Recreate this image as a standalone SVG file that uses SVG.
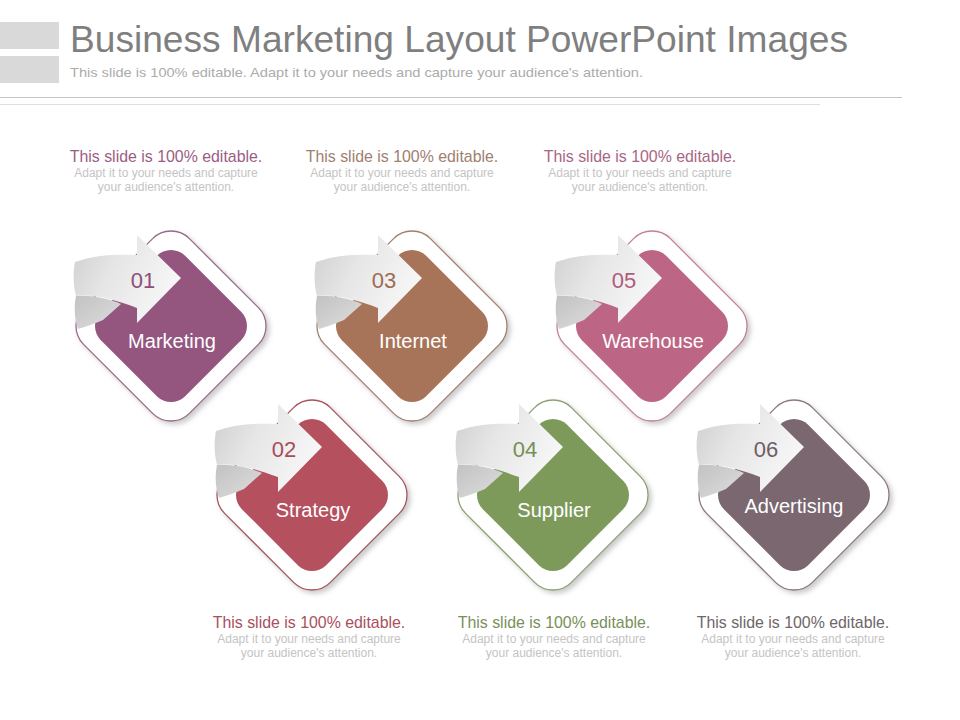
<svg xmlns="http://www.w3.org/2000/svg" xmlns:xlink="http://www.w3.org/1999/xlink" width="960" height="720" viewBox="0 0 960 720">
  <style>
    text { font-family: "Liberation Sans", Arial, sans-serif; }
    .title { font-size: 36px; fill: #7F7F7F; }
    .sub { font-size: 13px; fill: #ABABAB; }
    .head { font-size: 15.9px; text-anchor: middle; }
    .body { font-size: 12px; fill: #C4C4C4; text-anchor: middle; }
    .num { font-size: 22px; text-anchor: middle; }
    .lbl { font-size: 20px; fill: #FFFFFF; text-anchor: middle; }
    .outer { fill: #FFFFFF; stroke-width: 1.3; }
  </style>
  <defs>
    <filter id="sh" x="-20%" y="-20%" width="150%" height="150%">
      <feDropShadow dx="3" dy="3" stdDeviation="2.5" flood-color="#8C8C8C" flood-opacity="0.45"/>
    </filter>
    <linearGradient id="arrowG" x1="0" y1="0" x2="1" y2="0.4">
      <stop offset="0" stop-color="#CECECE"/>
      <stop offset="0.45" stop-color="#E6E6E6"/>
      <stop offset="1" stop-color="#F6F6F6"/>
    </linearGradient>
    <linearGradient id="foldG" x1="0" y1="0" x2="1" y2="1">
      <stop offset="0" stop-color="#C2C2C2"/>
      <stop offset="1" stop-color="#DEDEDE"/>
    </linearGradient>
    <g id="arrow">
      <path d="M-95,-30 C-80,-31 -64,-28 -50,-22 L-68,-6 C-77,-2 -86,1 -93,3 C-97,-8 -97,-20 -95,-30 Z" fill="url(#foldG)"/>
      <path d="M-96,-64 C-76,-71 -56,-72 -34,-71 L-34,-91 L10,-48 L-34,-3 L-34,-18 C-56,-26 -76,-32 -95,-30 C-98,-41 -98,-54 -96,-64 Z" fill="url(#arrowG)"/>
    </g>
    <rect id="outerShape" x="-74.8" y="-74.8" width="149.6" height="149.6" rx="26" transform="rotate(45)"/>
    <rect id="innerShape" x="-59.6" y="-59.6" width="119.2" height="119.2" rx="20" transform="rotate(45)"/>
  </defs>

  <g id="header">
    <rect x="0" y="22" width="59" height="27" fill="#D9D9D9"/>
    <rect x="0" y="56" width="59" height="27" fill="#D9D9D9"/>
    <text class="title" x="70" y="52" textLength="778" lengthAdjust="spacingAndGlyphs">Business Marketing Layout PowerPoint Images</text>
    <text class="sub" x="70" y="77" textLength="573" lengthAdjust="spacingAndGlyphs">This slide is 100% editable. Adapt it to your needs and capture your audience's attention.</text>
    <line x1="0" y1="97.5" x2="902" y2="97.5" stroke="#C4C4C4" stroke-width="1"/>
    <line x1="0" y1="104.5" x2="820" y2="104.5" stroke="#DEDEDE" stroke-width="1"/>
  </g>

  <g id="connectors"></g>

  <g id="node1" transform="translate(171,326)">
    <use xlink:href="#outerShape" class="outer" stroke="#9A6A88" filter="url(#sh)"/>
    <use xlink:href="#innerShape" fill="#94567F"/>
    <use xlink:href="#arrow"/>
    <text class="num" x="-28" y="-38" fill="#8C4F7A">01</text>
    <text class="lbl" x="1" y="22">Marketing</text>
  </g>
  <g id="node3" transform="translate(412,326)">
    <use xlink:href="#outerShape" class="outer" stroke="#A0806E" filter="url(#sh)"/>
    <use xlink:href="#innerShape" fill="#A87459"/>
    <use xlink:href="#arrow"/>
    <text class="num" x="-28" y="-38" fill="#9E6B55">03</text>
    <text class="lbl" x="1" y="22">Internet</text>
  </g>
  <g id="node5" transform="translate(652,326)">
    <use xlink:href="#outerShape" class="outer" stroke="#C38099" filter="url(#sh)"/>
    <use xlink:href="#innerShape" fill="#BD6584"/>
    <use xlink:href="#arrow"/>
    <text class="num" x="-28" y="-38" fill="#B05C7C">05</text>
    <text class="lbl" x="1" y="22">Warehouse</text>
  </g>
  <g id="node2" transform="translate(312,495)">
    <use xlink:href="#outerShape" class="outer" stroke="#A65360" filter="url(#sh)"/>
    <use xlink:href="#innerShape" fill="#B5505E"/>
    <use xlink:href="#arrow"/>
    <text class="num" x="-28" y="-38" fill="#A84D5B">02</text>
    <text class="lbl" x="1" y="22">Strategy</text>
  </g>
  <g id="node4" transform="translate(553,495)">
    <use xlink:href="#outerShape" class="outer" stroke="#8DA070" filter="url(#sh)"/>
    <use xlink:href="#innerShape" fill="#7E9A5B"/>
    <use xlink:href="#arrow"/>
    <text class="num" x="-28" y="-38" fill="#758F57">04</text>
    <text class="lbl" x="1" y="22">Supplier</text>
  </g>
  <g id="node6" transform="translate(794,495)">
    <use xlink:href="#outerShape" class="outer" stroke="#8A7A80" filter="url(#sh)"/>
    <use xlink:href="#innerShape" fill="#7A676F"/>
    <use xlink:href="#arrow"/>
    <text class="num" x="-28" y="-38" fill="#6E5E66">06</text>
    <text class="lbl" x="0" y="18">Advertising</text>
  </g>

  <g id="text1">
    <text class="head" x="166" y="162" fill="#9B5D84">This slide is 100% editable.</text>
    <text class="body" x="166" y="177">Adapt it to your needs and capture</text>
    <text class="body" x="166" y="191">your audience's attention.</text>
  </g>
  <g id="text3">
    <text class="head" x="402" y="162" fill="#A08070">This slide is 100% editable.</text>
    <text class="body" x="402" y="177">Adapt it to your needs and capture</text>
    <text class="body" x="402" y="191">your audience's attention.</text>
  </g>
  <g id="text5">
    <text class="head" x="640" y="162" fill="#A86685">This slide is 100% editable.</text>
    <text class="body" x="640" y="177">Adapt it to your needs and capture</text>
    <text class="body" x="640" y="191">your audience's attention.</text>
  </g>
  <g id="text2">
    <text class="head" x="309" y="628" fill="#A9505E">This slide is 100% editable.</text>
    <text class="body" x="309" y="643">Adapt it to your needs and capture</text>
    <text class="body" x="309" y="657">your audience's attention.</text>
  </g>
  <g id="text4">
    <text class="head" x="554" y="628" fill="#7A8F5A">This slide is 100% editable.</text>
    <text class="body" x="554" y="643">Adapt it to your needs and capture</text>
    <text class="body" x="554" y="657">your audience's attention.</text>
  </g>
  <g id="text6">
    <text class="head" x="793" y="628" fill="#6E6669">This slide is 100% editable.</text>
    <text class="body" x="793" y="643">Adapt it to your needs and capture</text>
    <text class="body" x="793" y="657">your audience's attention.</text>
  </g>
</svg>
